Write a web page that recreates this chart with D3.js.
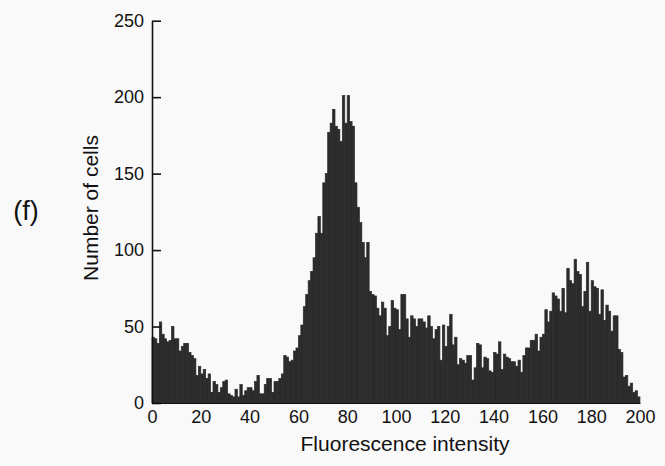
<!DOCTYPE html>
<html>
<head>
<meta charset="utf-8">
<script src="https://cdn.jsdelivr.net/npm/d3@7"></script>
<style>
  html, body { margin: 0; padding: 0; background: #f9f9f9; }
  svg { display: block; }
  text { font-family: "Liberation Sans", Arial, Helvetica, sans-serif; fill: #111; }
</style>
</head>
<body>
<svg id="chart" width="665" height="466"></svg>
<script>
// Fluorescence intensity channels 0..199 (bin width 1)
const binStart = 0;
const binWidth = 1;
const counts = [
  43,42,39,53,45,42,40,41,50,42, 42,34,37,39,39,33,31,29,18,24,
  19,22,16,19,7,14,12,7,10,14, 15,6,5,4,9,4,12,5,8,10,
  10,8,14,18,6,6,12,16,16,7, 14,14,16,19,31,30,27,28,34,36,
  44,51,63,71,80,86,95,111,122,111, 144,150,177,183,192,181,179,171,201,183,
  201,184,181,144,128,118,105,95,105,73, 71,70,62,57,66,62,44,50,67,62,
  61,48,71,71,55,43,57,55,50,55, 55,53,49,57,50,42,48,50,28,51,
  37,50,58,38,43,25,29,28,26,31, 31,15,23,39,38,23,30,29,21,20,
  33,32,40,22,32,30,29,27,27,24, 28,20,31,36,36,41,41,45,34,43,
  45,61,53,60,72,70,68,60,75,59, 88,80,78,94,86,84,63,73,92,60,
  80,76,75,58,74,54,64,60,47,57, 57,35,33,17,18,11,13,7,8,4
];
const xTicks = [0,20,40,60,80,100,120,140,160,180,200];
const yTicks = [0,50,100,150,200,250];
const xTitle = "Fluorescence intensity";
const yTitle = "Number of cells";
const panelLabel = "(f)";

const svg = d3.select("#chart");
const x = d3.scaleLinear().domain([0, 200]).range([152, 640]);
const y = d3.scaleLinear().domain([0, 250]).range([403, 20.7]);

// bars
svg.append("g")
  .selectAll("rect")
  .data(counts)
  .join("rect")
  .attr("x", (d, i) => x(binStart + i * binWidth))
  .attr("width", (d, i) => x(binStart + (i + 1) * binWidth) - x(binStart + i * binWidth))
  .attr("y", d => y(d))
  .attr("height", d => y(0) - y(d))
  .attr("fill", "#2b2b2b")
  .attr("stroke", "#2b2b2b")
  .attr("stroke-width", 0.7);

// y axis
const gy = svg.append("g")
  .attr("transform", `translate(${x(0)},0)`)
  .call(d3.axisLeft(y).tickValues(yTicks).tickSizeInner(-9).tickSizeOuter(0).tickPadding(8));
gy.select(".domain").attr("stroke", "#111").attr("stroke-width", 1.6);
gy.selectAll(".tick line").attr("stroke", "#111").attr("stroke-width", 1.6);
gy.selectAll(".tick text").style("font-size", "18px").attr("fill", "#111");

// x axis
const gx = svg.append("g")
  .attr("transform", `translate(0,${y(0)})`)
  .call(d3.axisBottom(x).tickValues(xTicks).tickSize(0).tickPadding(7));
gx.select(".domain").attr("stroke", "#111").attr("stroke-width", 1.2);
gx.selectAll(".tick text").style("font-size", "18px").attr("fill", "#111");

// titles
svg.append("text")
  .attr("x", 405).attr("y", 451)
  .attr("text-anchor", "middle")
  .style("font-size", "21px")
  .text(xTitle);

svg.append("text")
  .attr("transform", "translate(98,208) rotate(-90)")
  .attr("text-anchor", "middle")
  .style("font-size", "21px")
  .text(yTitle);

svg.append("text")
  .attr("x", 26).attr("y", 220)
  .attr("text-anchor", "middle")
  .style("font-size", "27px")
  .text(panelLabel);
</script>
</body>
</html>
